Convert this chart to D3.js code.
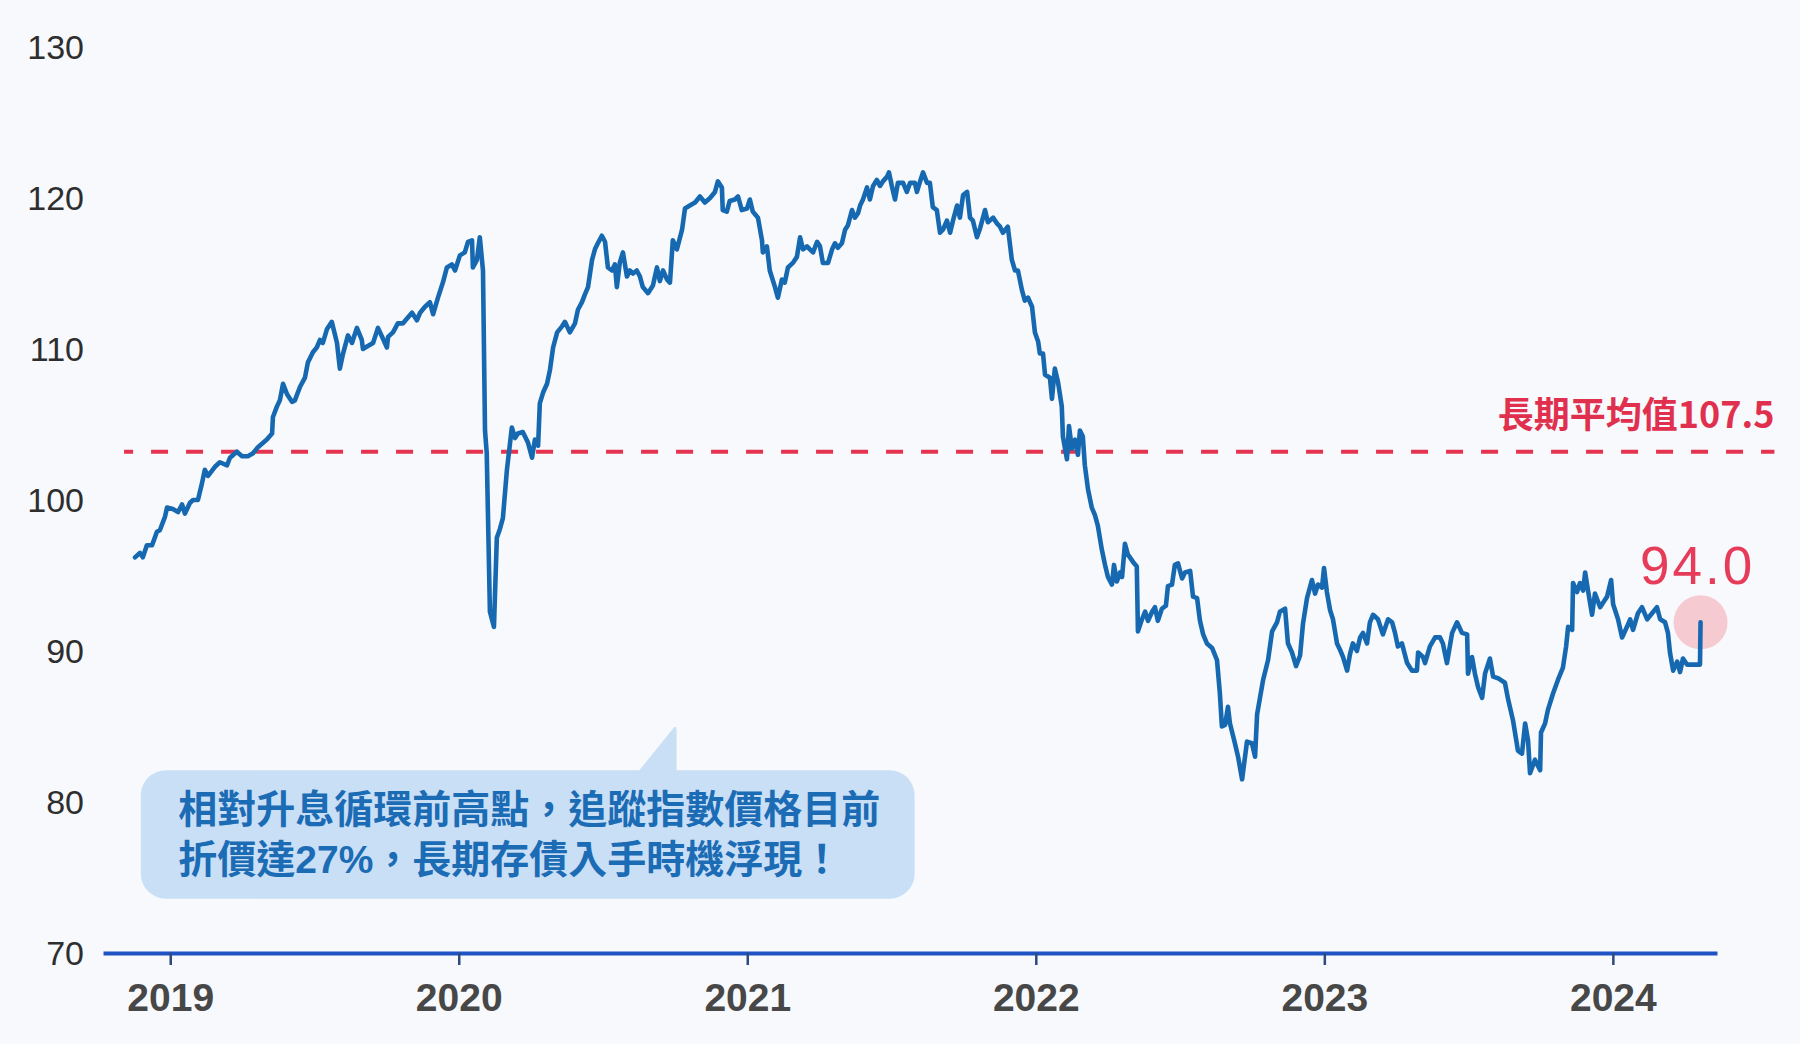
<!DOCTYPE html>
<html>
<head>
<meta charset="utf-8">
<script src="https://cdn.jsdelivr.net/npm/d3@7"></script>
<style>
html,body{margin:0;padding:0;background:#f7f9fc;}
svg{display:block;}
</style>
</head>
<body>
<script>
// ---- data (decimal years, index values) ----
const dates = [
2018.878,2018.895,2018.905,2018.919,2018.937,2018.954,2018.964,2018.982,2018.989,2019.009,
2019.027,2019.041,2019.051,2019.068,2019.079,2019.096,2019.110,2019.120,2019.131,2019.155,
2019.172,2019.197,2019.207,2019.231,2019.249,2019.269,2019.287,2019.304,2019.335,2019.353,
2019.356,2019.370,2019.380,2019.391,2019.405,2019.422,2019.432,2019.450,2019.467,2019.477,
2019.495,2019.508,2019.519,2019.529,2019.543,2019.560,2019.578,2019.588,2019.599,2019.616,
2019.630,2019.647,2019.664,2019.668,2019.685,2019.703,2019.720,2019.737,2019.751,2019.755,
2019.772,2019.789,2019.807,2019.820,2019.838,2019.855,2019.866,2019.883,2019.900,2019.911,
2019.928,2019.945,2019.959,2019.976,2019.987,2020.004,2020.021,2020.032,2020.046,2020.049,
2020.063,2020.073,2020.084,2020.091,2020.097,2020.108,2020.122,2020.132,2020.143,2020.153,
2020.167,2020.184,2020.195,2020.205,2020.222,2020.240,2020.254,2020.264,2020.275,2020.281,
2020.292,2020.306,2020.316,2020.327,2020.341,2020.358,2020.368,2020.385,2020.403,2020.413,
2020.427,2020.437,2020.448,2020.462,2020.472,2020.482,2020.496,2020.507,2020.517,2020.531,
2020.541,2020.548,2020.558,2020.569,2020.583,2020.593,2020.604,2020.617,2020.628,2020.638,
2020.656,2020.673,2020.687,2020.697,2020.708,2020.722,2020.732,2020.742,2020.756,2020.774,
2020.784,2020.801,2020.819,2020.836,2020.853,2020.871,2020.888,2020.898,2020.912,2020.915,
2020.929,2020.939,2020.957,2020.968,2020.981,2020.999,2021.009,2021.019,2021.037,2021.051,
2021.054,2021.068,2021.078,2021.096,2021.106,2021.120,2021.130,2021.141,2021.158,2021.172,
2021.183,2021.193,2021.207,2021.217,2021.228,2021.242,2021.252,2021.262,2021.280,2021.294,
2021.304,2021.314,2021.328,2021.339,2021.349,2021.363,2021.373,2021.384,2021.391,2021.401,
2021.415,2021.425,2021.436,2021.449,2021.460,2021.470,2021.484,2021.491,2021.501,2021.512,
2021.522,2021.540,2021.553,2021.564,2021.581,2021.588,2021.599,2021.609,2021.623,2021.633,
2021.643,2021.657,2021.668,2021.678,2021.692,2021.703,2021.713,2021.727,2021.737,2021.748,
2021.762,2021.772,2021.782,2021.796,2021.807,2021.824,2021.834,2021.852,2021.866,2021.876,
2021.886,2021.903,2021.917,2021.928,2021.938,2021.952,2021.962,2021.973,2021.987,2021.997,
2022.008,2022.014,2022.025,2022.032,2022.049,2022.056,2022.066,2022.077,2022.090,2022.094,
2022.108,2022.115,2022.125,2022.136,2022.146,2022.153,2022.163,2022.170,2022.181,2022.194,
2022.205,2022.215,2022.229,2022.240,2022.250,2022.264,2022.271,2022.281,2022.292,2022.299,
2022.309,2022.319,2022.337,2022.350,2022.354,2022.368,2022.379,2022.389,2022.403,2022.413,
2022.423,2022.437,2022.451,2022.458,2022.472,2022.482,2022.493,2022.507,2022.517,2022.535,
2022.545,2022.559,2022.569,2022.580,2022.593,2022.611,2022.628,2022.638,2022.645,2022.656,
2022.666,2022.673,2022.690,2022.701,2022.715,2022.732,2022.749,2022.760,2022.767,2022.777,
2022.788,2022.805,2022.819,2022.836,2022.846,2022.864,2022.874,2022.888,2022.902,2022.916,
2022.926,2022.940,2022.957,2022.968,2022.978,2022.992,2022.999,2023.009,2023.020,2023.030,
2023.044,2023.054,2023.065,2023.079,2023.089,2023.099,2023.113,2023.124,2023.134,2023.148,
2023.158,2023.169,2023.186,2023.203,2023.221,2023.235,2023.245,2023.255,2023.269,2023.287,
2023.304,2023.321,2023.325,2023.342,2023.349,2023.366,2023.384,2023.401,2023.411,2023.425,
2023.443,2023.460,2023.477,2023.495,2023.498,2023.512,2023.522,2023.533,2023.547,2023.557,
2023.574,2023.585,2023.602,2023.626,2023.637,2023.654,2023.671,2023.685,2023.696,2023.706,
2023.713,2023.730,2023.748,2023.751,2023.765,2023.775,2023.793,2023.810,2023.827,2023.838,
2023.845,2023.859,2023.862,2023.876,2023.886,2023.897,2023.904,2023.914,2023.928,2023.938,
2023.956,2023.966,2023.980,2023.994,2024.001,2024.018,2024.032,2024.049,2024.060,2024.070,
2024.087,2024.101,2024.119,2024.136,2024.153,2024.164,2024.181,2024.191,2024.198,2024.209,
2024.223,2024.233,2024.243,2024.257,2024.302,2024.304
];
const values = [
96.2,96.5,96.2,97.0,97.0,97.9,98.0,98.9,99.5,99.4,
99.2,99.7,99.1,99.8,100.0,100.0,101.1,102.0,101.6,102.2,
102.5,102.3,102.8,103.2,102.9,102.9,103.1,103.5,104.0,104.4,
105.5,106.2,106.6,107.7,107.0,106.5,106.6,107.5,108.1,109.1,
109.8,110.1,110.6,110.4,111.3,111.8,110.4,108.7,109.7,110.9,
110.4,111.4,110.6,110.0,110.2,110.4,111.4,110.7,110.1,110.8,
111.1,111.7,111.7,112.0,112.4,111.9,112.4,112.8,113.1,112.3,
113.4,114.4,115.4,115.6,115.2,116.2,116.4,117.1,117.2,115.4,
115.9,117.4,115.2,104.6,103.1,92.6,91.6,97.5,98.1,98.8,
102.0,104.8,104.1,104.4,104.5,103.8,102.8,104.0,103.6,106.4,
107.1,107.7,108.6,110.1,111.1,111.5,111.8,111.1,111.7,112.6,
113.1,113.6,114.1,115.9,116.6,117.0,117.5,117.1,115.4,115.2,
115.6,114.1,115.7,116.4,114.8,115.2,115.0,115.2,114.8,114.1,
113.7,114.2,115.4,114.5,115.2,114.6,114.4,117.2,116.6,117.9,
119.3,119.5,119.7,120.1,119.7,120.0,120.4,121.1,120.7,119.2,
119.1,119.8,119.9,120.1,119.2,119.3,119.9,119.1,118.7,117.2,
116.4,116.8,115.2,114.1,113.4,114.6,114.4,115.4,115.7,116.1,
117.4,116.6,116.8,116.6,116.4,117.1,116.8,115.7,115.7,116.6,
117.0,116.7,117.0,117.9,118.2,119.2,118.7,119.0,119.5,119.9,
120.7,119.9,120.8,121.2,120.8,121.1,121.4,121.7,120.8,119.9,
121.0,121.0,120.4,121.0,121.0,120.4,121.1,121.7,121.0,121.0,
119.4,119.2,117.7,117.9,118.5,117.7,118.5,119.5,118.7,120.2,
120.4,118.7,118.5,117.4,118.0,119.2,118.4,118.7,118.3,118.1,
117.7,118.1,115.9,115.2,115.2,113.9,113.2,113.4,112.8,111.1,
110.5,109.7,109.7,108.3,108.1,106.7,108.7,107.8,106.2,104.2,
102.7,104.9,103.4,104.0,103.0,104.6,104.2,102.3,100.7,99.5,
99.0,98.3,96.7,95.7,94.9,94.4,95.7,94.6,95.2,94.9,
97.1,96.4,95.9,95.6,91.3,92.1,92.6,92.0,92.6,92.9,
92.0,92.8,93.0,94.3,94.4,95.7,95.8,94.8,95.2,95.3,
93.6,93.5,92.0,91.1,90.5,90.2,89.4,87.2,85.0,85.1,
86.3,85.2,83.9,83.0,81.5,84.0,83.9,83.0,85.8,86.9,
88.1,89.4,91.3,91.9,92.6,92.8,90.5,89.9,89.0,89.7,
91.8,93.5,94.7,93.8,94.4,94.2,95.5,93.9,92.7,92.1,
90.5,90.1,89.6,88.7,89.8,90.5,90.0,90.9,91.2,90.5,
91.9,92.4,92.1,91.1,92.1,91.9,91.2,90.3,90.5,89.2,
88.7,88.7,89.9,89.6,89.2,90.3,90.9,90.9,90.5,89.2,
91.2,91.9,91.2,91.1,88.5,89.6,88.5,87.6,86.9,88.5,
89.5,88.3,88.2,87.9,86.8,85.4,83.4,83.2,85.2,84.1,
81.9,82.8,82.1,84.6,85.2,86.1,87.2,88.1,88.9,90.3,
91.6,91.4,94.5,93.9,94.5,94.0,95.2,94.0,92.4,93.8,
92.9,93.2,93.6,94.7,93.1,92.1,90.9,91.6,92.1,91.4,
92.5,92.9,92.1,92.5,92.9,92.1,91.9,91.2,89.9,88.7,
89.3,88.6,89.5,89.1,89.1,91.9
];
const yTicks = [70, 80, 90, 100, 110, 120, 130];
const xTicks = [2019, 2020, 2021, 2022, 2023, 2024];
const xDomain = [2018.767, 2024.361];
const yDomain = [70, 130];
const avgLevel = 103.2;              // position of the dashed line as drawn
const avgSpan = [2018.840, 2024.560];
const avgLabel = "長期平均值107.5";
const lastLabel = "94.0";
const calloutLines = ["相對升息循環前高點，追蹤指數價格目前", "折價達27%，長期存債入手時機浮現！"];

// ---- layout ----
const W = 1800, H = 1044;
const svg = d3.select("body").append("svg").attr("width", W).attr("height", H);
svg.append("rect").attr("width", W).attr("height", H).attr("fill", "#f7f9fc");

const x = d3.scaleLinear().domain(xDomain).range([103, 1717]);
const y = d3.scaleLinear().domain(yDomain).range([953, 47]);

const n = Math.min(dates.length, values.length);
const series = d3.range(n).map(i => ({t: dates[i], v: values[i]}));

// y labels
svg.append("g").selectAll("text").data(yTicks).join("text")
  .attr("x", 84).attr("y", d => y(d)).attr("dy", "0.36em")
  .attr("text-anchor", "end")
  .attr("font-family", "'Liberation Sans', Arial, sans-serif")
  .attr("font-size", 34).attr("fill", "#2e2e2e")
  .text(d => d);

// x axis
const xAxis = d3.axisBottom(x).tickValues(xTicks).tickFormat(d3.format("d"))
  .tickSizeInner(12).tickSizeOuter(0).tickPadding(18);
const gx = svg.append("g").attr("transform", `translate(0,${y(70)})`).call(xAxis);
gx.select(".domain").attr("stroke", "#1f52c2").attr("stroke-width", 4);
gx.selectAll(".tick line").attr("stroke", "#2d4a7e").attr("stroke-width", 2.5);
gx.selectAll(".tick text")
  .attr("font-family", "'Liberation Sans', Arial, sans-serif")
  .attr("font-weight", "bold").attr("font-size", 39).attr("fill", "#474747");

// callout box
const cb = svg.append("g");
const bx0 = x(2018.898), bx1 = x(2021.58), by0 = y(82.1), by1 = y(73.6);
cb.append("rect").attr("x", bx0).attr("y", by0).attr("width", bx1 - bx0).attr("height", by1 - by0)
  .attr("rx", 25).attr("fill", "#c9dff5");
const tipX = x(2020.755), tipL = x(2020.623);
cb.append("path")
  .attr("d", `M${tipL},${by0 + 1} L${tipX - 3},${y(85.1) + 3} Q${tipX},${y(85.1)} ${tipX},${y(85.1) + 5} L${tipX},${by0 + 1} Z`)
  .attr("fill", "#c9dff5");
const ct = cb.append("text")
  .attr("font-family", "'Liberation Sans', 'Noto Sans CJK TC', 'Noto Sans CJK SC', sans-serif")
  .attr("font-weight", 700).attr("font-size", 39).attr("fill", "#1b6cb5");
ct.selectAll("tspan").data(calloutLines).join("tspan")
  .attr("x", x(2019.028)).attr("y", (d, i) => 823 + i * 50)
  .text(d => d);

// average dashed line
svg.append("line")
  .attr("x1", x(avgSpan[0])).attr("x2", x(avgSpan[1]))
  .attr("y1", y(avgLevel)).attr("y2", y(avgLevel))
  .attr("stroke", "#e5344f").attr("stroke-width", 4)
  .attr("stroke-dasharray", "17 18").attr("stroke-dashoffset", 8);
svg.append("text")
  .attr("x", x(avgSpan[1])).attr("y", y(avgLevel) - 24)
  .attr("text-anchor", "end")
  .attr("font-family", "'Noto Sans CJK TC', 'Noto Sans CJK SC', sans-serif")
  .attr("font-weight", 700).attr("font-size", 36).attr("fill", "#e0304e")
  .text(avgLabel);

// highlight circle at last point
const last = series[n - 1];
svg.append("circle").attr("cx", x(last.t)).attr("cy", y(last.v)).attr("r", 27)
  .attr("fill", "#f5c3c9").attr("opacity", 0.85);

// main line
const line = d3.line().x(d => x(d.t)).y(d => y(d.v));
svg.append("path").datum(series).attr("d", line)
  .attr("fill", "none").attr("stroke", "#1669b1").attr("stroke-width", 4.6)
  .attr("stroke-linejoin", "round").attr("stroke-linecap", "round");

// last value label
svg.append("text")
  .attr("x", x(last.t) - 3).attr("y", y(last.v) - 38)
  .attr("text-anchor", "middle")
  .attr("font-family", "'Liberation Sans', Arial, sans-serif")
  .attr("font-size", 53).attr("letter-spacing", 3).attr("fill", "#e63c59")
  .text(lastLabel);
</script>
</body>
</html>
